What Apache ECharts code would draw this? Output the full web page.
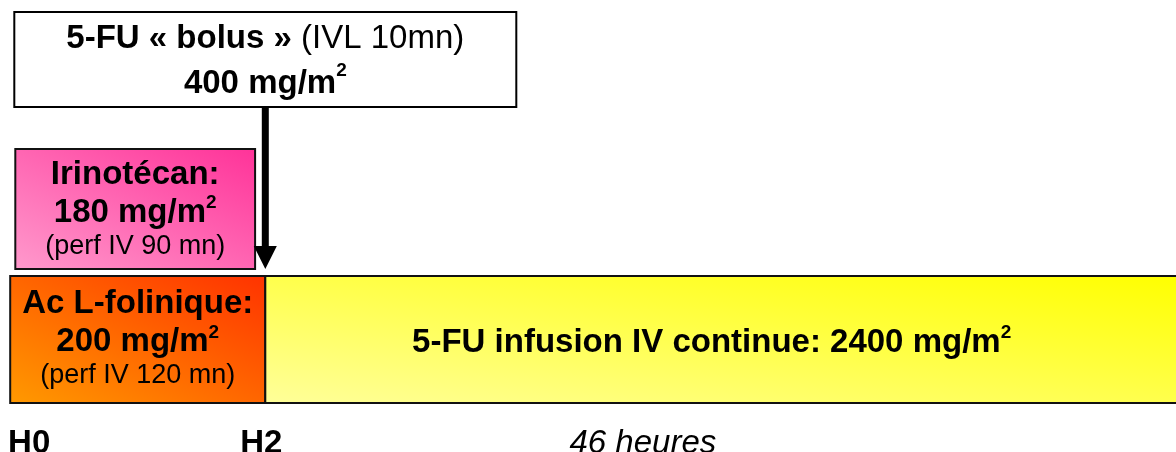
<!DOCTYPE html>
<html>
<head>
<meta charset="utf-8">
<script src="https://cdn.jsdelivr.net/npm/echarts@6/dist/echarts.min.js"></script>
<style>
  html, body { margin: 0; padding: 0; background: #fff; }
  #main { width: 1176px; height: 452px; }
</style>
</head>
<body>
<div id="main"></div>
<script>
// schéma FOLFIRI : temps en heures depuis H0, doses en mg/m2
const drugs = ['Ac L-folinique', '5-FU infusion IV continue', 'Irinotécan', '5-FU « bolus »'];
const doses = [200, 2400, 180, 400];
const infoText = ['(perf IV 120 mn)', '', '(perf IV 90 mn)', '(IVL 10mn)'];
const startHour = [0, 2, 0.04, 2];
const endHour = [2, 48, 1.92, 2];
const lanes = [0, 0, 1, 2];
const tickHours = [0, 2, 4.96];
const tickLabels = ['H0', 'H2', '46 heures'];

// mise en page (unités de l'axe y : 0 = bas des barres, 100 = haut)
const laneBand = [[0, 31.5], [33.25, 63], [73.45, 97]];
const fillColors = [['#ff9900', '#ff3300'], ['#ffff99', '#ffff00'], ['#ff99cc', '#ff3399'], ['#fff', '#fff']];
const textShift = [[0, -2], [-10, 3], [0, -1], [0, 2]];
const FONT = "'Liberation Sans', Arial, sans-serif";

// styles zrender (fill = couleur du texte)
const rich = {
  b: { fontFamily: FONT, fontSize: 33, fontWeight: 'bold', lineHeight: 38, fill: '#000' },
  sup: { fontFamily: FONT, fontSize: 19, fontWeight: 'bold', lineHeight: 18, verticalAlign: 'top', fill: '#000' },
  s: { fontFamily: FONT, fontSize: 27, lineHeight: 29, fill: '#000' },
  bb: { fontFamily: FONT, fontSize: 33, fontWeight: 'bold', lineHeight: 45, fill: '#000' },
  br: { fontFamily: FONT, fontSize: 33, lineHeight: 45, fill: '#000' }
};

function boxText(i) {
  if (lanes[i] === 2) {
    return '{bb|' + drugs[i] + '}{br| ' + infoText[i] + '}\n{bb|' + doses[i] + ' mg/m}{sup|2}';
  }
  if (!infoText[i]) {
    return '{b|' + drugs[i] + ': ' + doses[i] + ' mg/m}{sup|2}';
  }
  return '{b|' + drugs[i] + ':}\n{b|' + doses[i] + ' mg/m}{sup|2}\n{s|' + infoText[i] + '}';
}

// dégradé diagonal : clair en bas à gauche, foncé en haut à droite
function diagGradient(x, y, w, h, c0, c1) {
  const k = 2 / (1 / (w * w) + 1 / (h * h));
  return new echarts.graphic.LinearGradient(x, y + h, x + k / w, y + h - k / h,
    [{ offset: 0, color: c0 }, { offset: 1, color: c1 }], true);
}

const boxData = drugs.map((d, i) => [startHour[i], endHour[i], lanes[i], i]);

function renderBox(params, api) {
  const i = api.value(3);
  const band = laneBand[api.value(2)];
  const cs = params.coordSys;
  const textContent = {
    style: { text: boxText(i), rich: rich, fill: '#000', align: 'center', verticalAlign: 'middle' }
  };
  const textConfig = { position: 'inside', offset: textShift[i], insideFill: '#000', insideStroke: 'transparent' };

  if (api.value(0) === api.value(1)) {
    // bolus : flèche + encadré
    const xm = api.coord([api.value(0), 0])[0];
    const top = api.coord([0, band[1]])[1];
    const bottom = api.coord([0, band[0]])[1];
    const tip = api.coord([0, laneBand[1][0]])[1];
    return {
      type: 'group',
      children: [
        { type: 'rect', shape: { x: xm - 3.5, y: bottom, width: 7, height: tip - 23 - bottom }, style: { fill: '#000' } },
        { type: 'polygon', shape: { points: [[xm - 11.5, tip - 23], [xm + 11.5, tip - 23], [xm, tip]] }, style: { fill: '#000' } },
        {
          type: 'rect',
          shape: { x: xm - 251, y: top, width: 502, height: bottom - top },
          style: { fill: '#fff', stroke: '#000', lineWidth: 2 },
          textContent: textContent,
          textConfig: textConfig
        }
      ]
    };
  }

  const p0 = api.coord([api.value(0), band[0]]);
  const p1 = api.coord([api.value(1), band[1]]);
  const x = p0[0];
  const y = p1[1];
  const h = p0[1] - p1[1];
  const w = Math.min(p1[0], cs.x + cs.width + 2) - x;
  const c = fillColors[i];
  return {
    type: 'rect',
    shape: { x: x, y: y, width: w, height: h },
    style: { fill: diagGradient(x, y, w, h, c[0], c[1]), stroke: '#111', lineWidth: 2 },
    textContent: textContent,
    textConfig: textConfig
  };
}

const chart = echarts.init(document.getElementById('main'));
const option = {
  animation: false,
  grid: { left: 0, right: 0, top: 0, bottom: 49, outerBoundsMode: 'none', containLabel: false },
  xAxis: {
    type: 'value',
    min: -0.08,
    max: 9.14,
    axisLine: { show: false },
    axisTick: { show: false },
    splitLine: { show: false },
    axisLabel: {
      customValues: tickHours,
      margin: 24,
      formatter: function (v) {
        const k = tickHours.indexOf(v);
        return '{t' + k + '|' + tickLabels[k] + '}';
      },
      rich: {
        t0: { fontFamily: FONT, fontSize: 33, fontWeight: 'bold', lineHeight: 33, color: '#000', padding: [0, 0, 0, 38] },
        t1: { fontFamily: FONT, fontSize: 33, fontWeight: 'bold', lineHeight: 33, color: '#000', padding: [0, 8, 0, 0] },
        t2: { fontFamily: FONT, fontSize: 33, fontStyle: 'italic', lineHeight: 33, color: '#000' }
      }
    }
  },
  yAxis: {
    type: 'value',
    min: 0,
    max: 100,
    show: false
  },
  series: [
    {
      type: 'custom',
      clip: false,
      renderItem: renderBox,
      data: boxData
    }
  ]
};
chart.setOption(option);
</script>
</body>
</html>
